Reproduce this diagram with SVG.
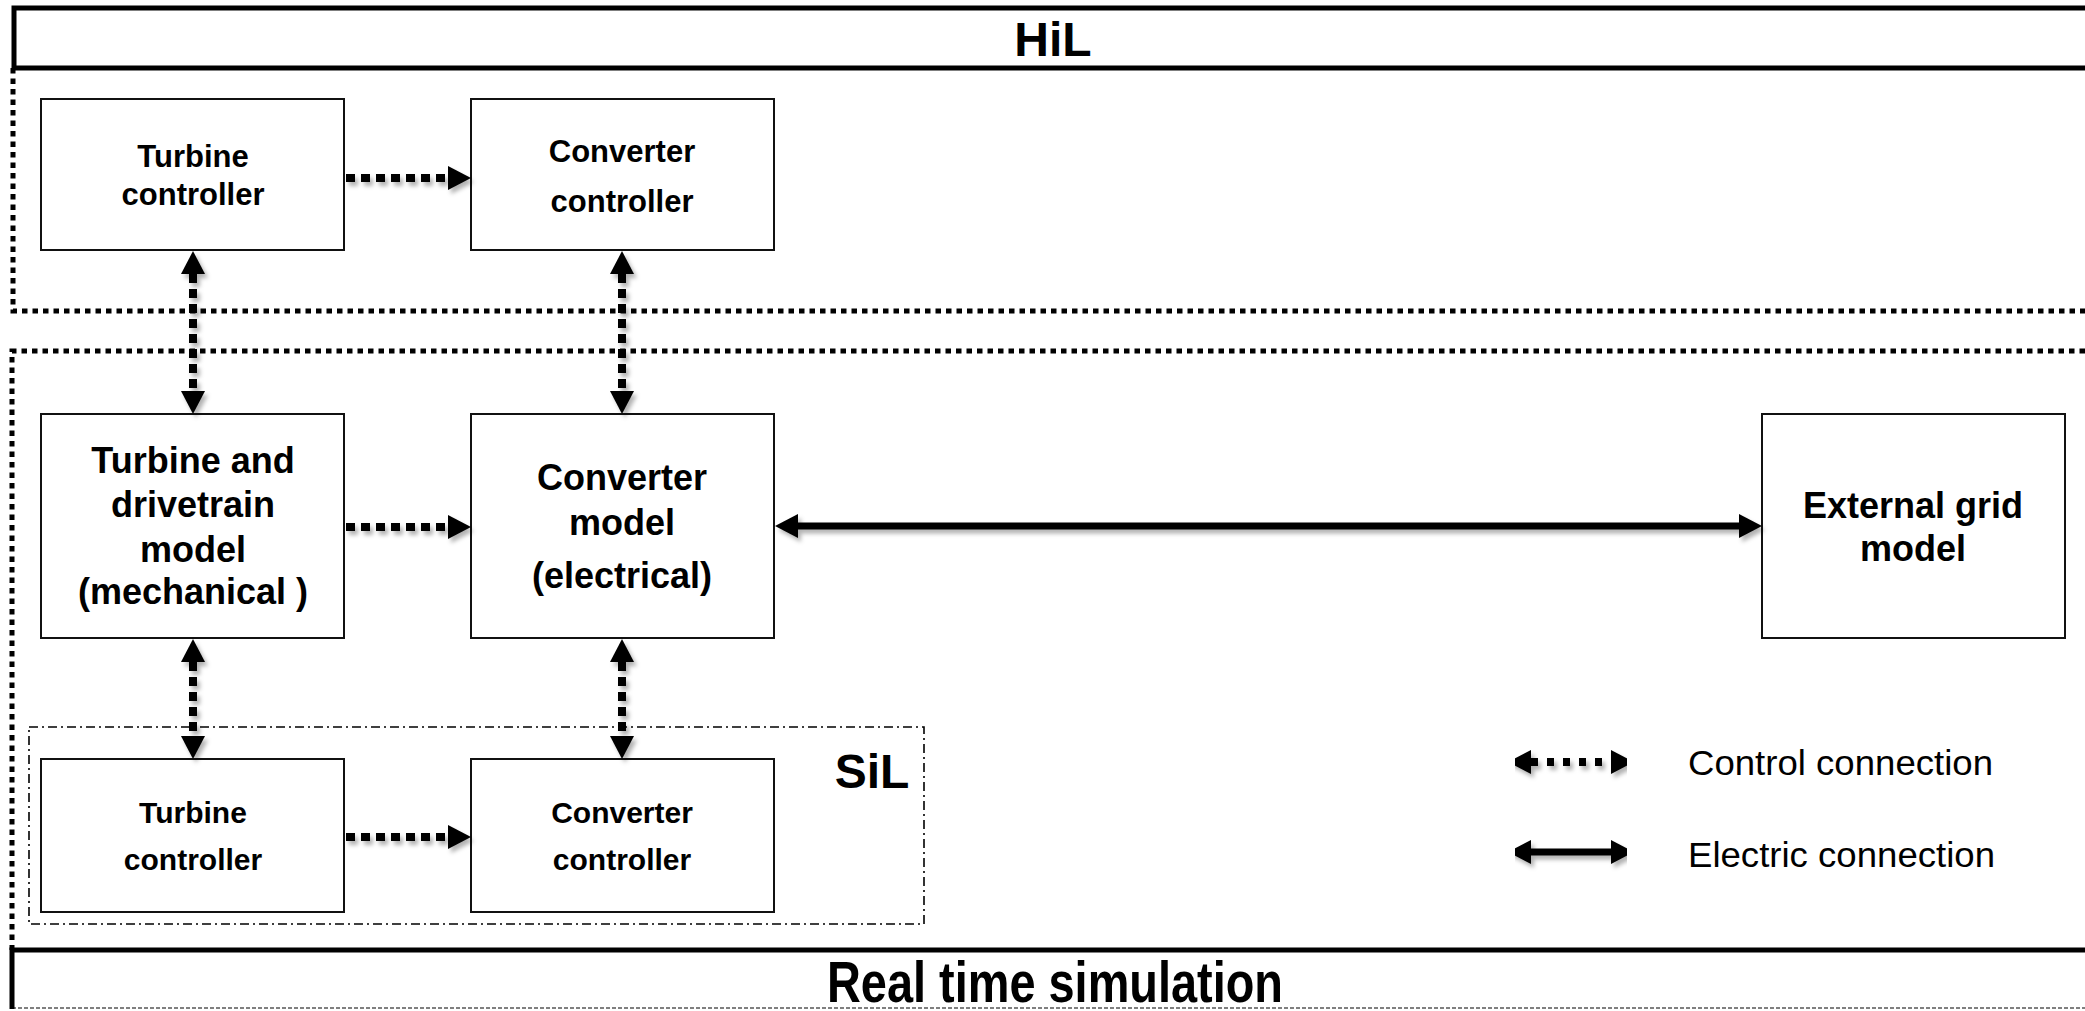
<svg xmlns="http://www.w3.org/2000/svg" width="2085" height="1011" viewBox="0 0 2085 1011">
<defs>
<style>
.box{fill:#fff;stroke:#111;stroke-width:2}
.t{font-family:"Liberation Sans",Arial,sans-serif;font-weight:bold;fill:#000;text-anchor:middle}
.lg{font-family:"Liberation Sans",Arial,sans-serif;fill:#000}
.ctl{stroke:#000;stroke-width:8;stroke-dasharray:9 6;fill:none}
.ele{stroke:#000;stroke-width:7;fill:none}
.dot{stroke:#000;stroke-width:5;stroke-dasharray:5.5 5;fill:none}
.thick{stroke:#000;stroke-width:5;fill:none}
.sil{stroke:#000;stroke-width:1.6;stroke-dasharray:9 4 2 4;fill:none}
</style>
<marker id="ah" viewBox="0 0 23 24" refX="0" refY="12" markerWidth="23" markerHeight="24" markerUnits="userSpaceOnUse" orient="auto-start-reverse">
<path d="M0,0 L23,12 L0,24 z" fill="#000"/>
</marker>
<filter id="sh" x="-20%" y="-50%" width="140%" height="200%">
<feDropShadow dx="3" dy="4" stdDeviation="2" flood-color="#000" flood-opacity="0.3"/>
</filter>
</defs>
<rect width="2085" height="1011" fill="#fff"/>

<g id="frames">
<path class="dot" d="M13,68 V311 H2085"/>
<path class="dot" d="M2085,351 H12 V950"/>
<path class="thick" d="M2085,8 H14 V68 H2085"/>
<path class="thick" d="M2085,950 H12 V1009"/>
<line x1="12" y1="1008" x2="2085" y2="1008" stroke="#000" stroke-width="1" stroke-dasharray="4 2"/>
<rect class="sil" x="29" y="727" width="895" height="197"/>
</g>

<g id="labels">
<text class="t" x="1053" y="56" font-size="48">HiL</text>
<text class="t" x="1055" y="1002" font-size="58" textLength="456" lengthAdjust="spacingAndGlyphs">Real time simulation</text>
<text class="t" x="872" y="788" font-size="48">SiL</text>
</g>

<g id="hil-turbine-controller">
<rect class="box" x="41" y="99" width="303" height="151"/>
<text class="t" x="193" y="167" font-size="31">Turbine</text>
<text class="t" x="193" y="205" font-size="31">controller</text>
</g>
<g id="hil-converter-controller">
<rect class="box" x="471" y="99" width="303" height="151"/>
<text class="t" x="622" y="162" font-size="31">Converter</text>
<text class="t" x="622" y="212" font-size="31">controller</text>
</g>
<g id="turbine-model">
<rect class="box" x="41" y="414" width="303" height="224"/>
<text class="t" x="193" y="473" font-size="36">Turbine and</text>
<text class="t" x="193" y="517" font-size="36">drivetrain</text>
<text class="t" x="193" y="562" font-size="36">model</text>
<text class="t" x="193" y="604" font-size="36">(mechanical )</text>
</g>
<g id="converter-model">
<rect class="box" x="471" y="414" width="303" height="224"/>
<text class="t" x="622" y="490" font-size="36">Converter</text>
<text class="t" x="622" y="535" font-size="36">model</text>
<text class="t" x="622" y="588" font-size="36">(electrical)</text>
</g>
<g id="external-grid">
<rect class="box" x="1762" y="414" width="303" height="224"/>
<text class="t" x="1913" y="518" font-size="36">External grid</text>
<text class="t" x="1913" y="561" font-size="36">model</text>
</g>
<g id="sil-turbine-controller">
<rect class="box" x="41" y="759" width="303" height="153"/>
<text class="t" x="193" y="823" font-size="30">Turbine</text>
<text class="t" x="193" y="870" font-size="30">controller</text>
</g>
<g id="sil-converter-controller">
<rect class="box" x="471" y="759" width="303" height="153"/>
<text class="t" x="622" y="823" font-size="30">Converter</text>
<text class="t" x="622" y="870" font-size="30">controller</text>
</g>

<g id="connectors" filter="url(#sh)">
<line class="ctl" x1="346" y1="178" x2="448" y2="178" marker-end="url(#ah)"/>
<line class="ctl" x1="346" y1="527" x2="448" y2="527" marker-end="url(#ah)"/>
<line class="ctl" x1="346" y1="837" x2="448" y2="837" marker-end="url(#ah)"/>
<line class="ctl" x1="193" y1="274" x2="193" y2="391" marker-start="url(#ah)" marker-end="url(#ah)"/>
<line class="ctl" x1="622" y1="274" x2="622" y2="391" marker-start="url(#ah)" marker-end="url(#ah)"/>
<line class="ctl" x1="193" y1="662" x2="193" y2="736" marker-start="url(#ah)" marker-end="url(#ah)"/>
<line class="ctl" x1="622" y1="662" x2="622" y2="736" marker-start="url(#ah)" marker-end="url(#ah)"/>
<line class="ele" x1="798" y1="526" x2="1739" y2="526" marker-start="url(#ah)" marker-end="url(#ah)"/>
</g>

<g id="legend">
<g filter="url(#sh)">
<line class="ctl" x1="1531" y1="762" x2="1611" y2="762" style="stroke-dasharray:7 9" marker-start="url(#ah)" marker-end="url(#ah)"/>
<line class="ele" x1="1531" y1="852" x2="1611" y2="852" marker-start="url(#ah)" marker-end="url(#ah)"/>
</g>
<text class="lg" x="1688" y="775" font-size="35" textLength="305" lengthAdjust="spacingAndGlyphs">Control connection</text>
<text class="lg" x="1688" y="867" font-size="35" textLength="307" lengthAdjust="spacingAndGlyphs">Electric connection</text>
</g>
</svg>
